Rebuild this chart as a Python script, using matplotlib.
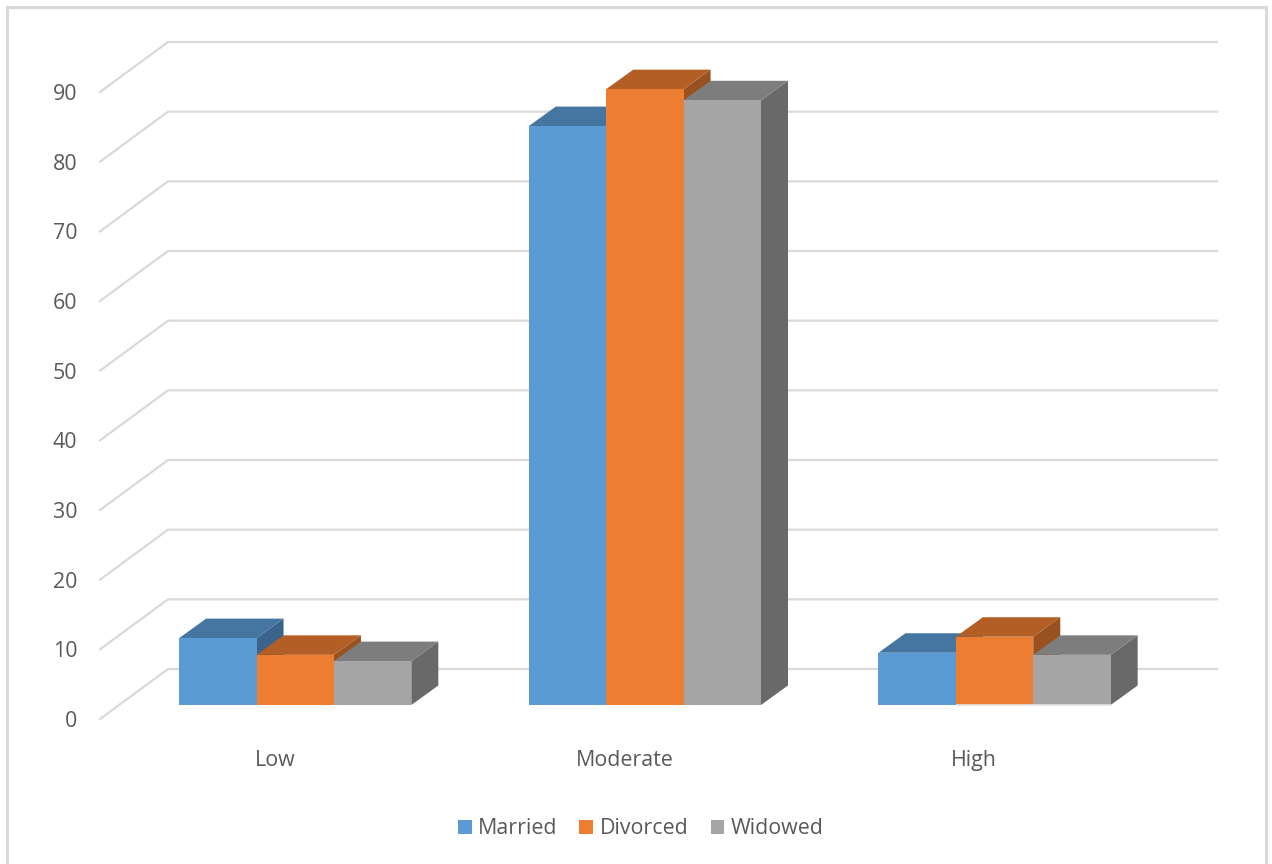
import matplotlib
matplotlib.use("Agg")
import matplotlib.pyplot as plt
from matplotlib.lines import Line2D
from matplotlib.patches import Polygon
from matplotlib.transforms import Affine2D

categories = ["Low", "Moderate", "High"]
series_names = ["Married", "Divorced", "Widowed"]
married = [9.6, 83.1, 7.5]
divorced = [7.2, 88.4, 9.8]
widowed = [6.3, 86.8, 7.2]
y_ticks = [0, 10, 20, 30, 40, 50, 60, 70, 80, 90]

front_colors = ["#5B9BD5", "#ED7D31", "#A5A5A5"]
top_colors = ["#4575A1", "#B35E24", "#7D7D7D"]
side_colors = ["#3A648C", "#9A5120", "#696969"]
grid_color = "#D9D9D9"
text_color = "#595959"

W, H = 1272, 864
plt.rcParams["font.family"] = ["Open Sans", "DejaVu Sans"]
fig = plt.figure(figsize=(W / 100, H / 100), dpi=100, facecolor="white")

# The axes rectangle is the front plane of the 3D floor.
left, right, bottom, top = 100, 1149, 719, 92
ax = fig.add_axes([left / W, 1 - bottom / H, (right - left) / W, (bottom - top) / H])
ax.set_xlim(0, 3)
ax.set_ylim(0, 90)
ax.patch.set_visible(False)
for spine in ax.spines.values():
    spine.set_visible(False)

px_x = 3 / (right - left)
px_y = 90 / (bottom - top)

# Outer chart border: the lower edge runs off the bottom of the canvas
fig.add_artist(Line2D([7 / W, 7 / W, 1266 / W, 1266 / W], [-0.01, 1 - 7 / H, 1 - 7 / H, -0.01],
                      transform=fig.transFigure, color=grid_color, linewidth=2.2,
                      solid_joinstyle="miter"))

# Gridlines: a diagonal across the side wall, then along the back wall
wall_dx, wall_dy = 68 * px_x, 50 * px_y
for v in y_ticks:
    ax.plot([0, wall_dx, 3 + wall_dx], [v, v + wall_dy, v + wall_dy],
            color=grid_color, linewidth=1.6, clip_on=False, zorder=1,
            solid_joinstyle="miter")

# Bars stand part way into the floor, so they are drawn on a shifted plane
depth_x, depth_y = 27 * px_x, 19.5 * px_y
bar_w = 77.4 * px_x
plane = ax.transData + Affine2D().translate(20.4, 14)

handles = []
z = 3
for i, cat in enumerate(categories):
    center = i + 0.5
    for j, values in enumerate([married, divorced, widowed]):
        v = values[i]
        x0 = center + (j - 1.5) * bar_w
        x1 = x0 + bar_w
        side = Polygon([(x1, 0), (x1 + depth_x, depth_y), (x1 + depth_x, v + depth_y), (x1, v)],
                       closed=True, facecolor=side_colors[j], edgecolor="none",
                       transform=plane, clip_on=False, zorder=z)
        cap = Polygon([(x0, v), (x1, v), (x1 + depth_x, v + depth_y), (x0 + depth_x, v + depth_y)],
                      closed=True, facecolor=top_colors[j], edgecolor="none",
                      transform=plane, clip_on=False, zorder=z)
        ax.add_patch(side)
        ax.add_patch(cap)
        bars = ax.bar(x0, v, width=bar_w, align="edge", color=front_colors[j],
                      linewidth=0, transform=plane, clip_on=False, zorder=z + 0.5)
        if i == 0:
            handles.append(bars[0])
        z += 1

# Pale floor edge under the last two bars of the final group
edge_start = 2.5 - 0.5 * bar_w
ax.plot([edge_start, edge_start + 2 * bar_w], [0, 0], color="#E4E4E4", linewidth=1.2,
        transform=plane, clip_on=False, zorder=z, solid_capstyle="butt")

ax.set_xticks([0.5, 1.5, 2.5], categories)
ax.set_yticks(y_ticks)
ax.tick_params(axis="both", length=0, labelcolor=text_color, labelsize=15.4)
ax.tick_params(axis="x", pad=22.4)
ax.tick_params(axis="y", pad=16.5)

fig.legend(handles=handles, labels=series_names, loc="center", ncol=3, frameon=False,
           bbox_to_anchor=(640.5 / W, 1 - 829 / H), fontsize=15.4, labelcolor=text_color,
           handlelength=0.65, handleheight=0.65, handletextpad=0.28, columnspacing=1.05)

fig.savefig("out.png", dpi=100)
